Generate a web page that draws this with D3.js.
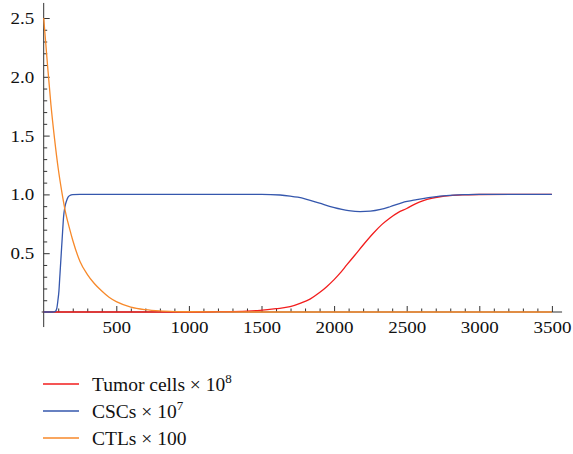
<!DOCTYPE html>
<html>
<head>
<meta charset="utf-8">
<script src="https://cdn.jsdelivr.net/npm/d3@7/dist/d3.min.js"></script>
<style>
  html, body { margin: 0; padding: 0; background: #fff; }
</style>
</head>
<body>
<svg id="chart" width="573" height="454"></svg>
<script>
// ---- data ----
const seriesNames = ["Tumor cells × 10", "CSCs × 10", "CTLs × 100"];
const seriesSup = ["8", "7", ""];
const seriesColors = ["#f21d1d", "#3557ad", "#f7892a"];

const tumorT = [0, 1000, 1200, 1400, 1490, 1600, 1697, 1770, 1834, 1900, 1949, 2000, 2041, 2087, 2144, 2200, 2270, 2330, 2385, 2440, 2500, 2560, 2615, 2670, 2729, 2800, 2900, 3000, 3500];
const tumorV = [0, 0, 0.003, 0.008, 0.014, 0.028, 0.045, 0.075, 0.11, 0.165, 0.215, 0.275, 0.33, 0.40, 0.485, 0.57, 0.67, 0.745, 0.80, 0.845, 0.88, 0.92, 0.947, 0.966, 0.98, 0.99, 0.996, 0.999, 1.0];

const cscT = [0, 60, 80, 90, 98, 105, 110, 115, 121, 126, 130, 137, 144, 151, 160, 167, 180, 200, 250, 1000, 1500, 1628, 1697, 1750, 1811, 1900, 1995, 2100, 2179, 2250, 2320, 2385, 2470, 2569, 2650, 2729, 2820, 2913, 3000, 3500];
const cscV = [0, 0, 0.005, 0.03, 0.10, 0.18, 0.28, 0.38, 0.5, 0.6, 0.68, 0.81, 0.88, 0.92, 0.955, 0.975, 0.99, 0.998, 1.0, 1.0, 1.0, 0.995, 0.986, 0.976, 0.958, 0.925, 0.89, 0.862, 0.853, 0.857, 0.872, 0.895, 0.93, 0.955, 0.972, 0.985, 0.994, 0.998, 1.0, 1.0];

const ctlT = [0, 25, 50, 75, 100, 125, 150, 180, 200, 250, 300, 350, 400, 450, 500, 600, 700, 800, 900, 1000, 1200, 1500, 3500];
const ctlV = [2.5, 2.12, 1.76, 1.47, 1.22, 1.02, 0.85, 0.70, 0.61, 0.43, 0.32, 0.24, 0.178, 0.125, 0.088, 0.042, 0.02, 0.009, 0.004, 0.002, 0.0005, 0, 0];

const xMajor = [500, 1000, 1500, 2000, 2500, 3000, 3500];
const yMajor = [0.5, 1.0, 1.5, 2.0, 2.5];
const xMinor = d3.range(100, 3501, 100).filter(v => v % 500 !== 0);
const yMinor = d3.range(1, 26).map(v => v / 10).filter(v => Math.round(v * 10) % 5 !== 0);

// ---- layout ----
const svg = d3.select("#chart");
const x = d3.scaleLinear().domain([0, 3500]).range([43.7, 551.9]);
const y = d3.scaleLinear().domain([0, 2.5]).range([312, 18]);
const axisColor = "#333";
const serif = "'Liberation Serif', 'Times New Roman', serif";
const textScale = 1.12;

const series = [
  { t: tumorT, v: tumorV },
  { t: cscT, v: cscV },
  { t: ctlT, v: ctlV }
];

// axis lines (extended slightly beyond data, as in reference)
const axes = svg.append("g");
axes.append("line").attr("x1", x(-14)).attr("x2", x(3570)).attr("y1", y(0)).attr("y2", y(0))
  .attr("stroke", axisColor).attr("stroke-width", 1);
axes.append("line").attr("x1", x(0)).attr("x2", x(0)).attr("y1", y(-0.128)).attr("y2", y(2.628))
  .attr("stroke", axisColor).attr("stroke-width", 1);

// x axis
const gx = svg.append("g").attr("transform", `translate(0,${y(0)})`);
gx.call(d3.axisBottom(x).tickValues(xMajor).tickSize(-6).tickPadding(8.5).tickFormat(d3.format("d")));
const gxm = svg.append("g").attr("transform", `translate(0,${y(0)})`);
gxm.call(d3.axisBottom(x).tickValues(xMinor).tickSize(-3.5).tickFormat(""));

// y axis
const gy = svg.append("g").attr("transform", `translate(${x(0)},0)`);
gy.call(d3.axisLeft(y).tickValues(yMajor).tickSize(-6).tickPadding(8.5).tickFormat(d3.format(".1f")));
const gym = svg.append("g").attr("transform", `translate(${x(0)},0)`);
gym.call(d3.axisLeft(y).tickValues(yMinor).tickSize(-3.5).tickFormat(""));

[gx, gxm, gy, gym].forEach(g => {
  g.attr("font-family", null).attr("font-size", null);
  g.select(".domain").remove();
  g.selectAll(".tick line").attr("stroke", axisColor).attr("stroke-width", 1);
  g.selectAll(".tick text")
    .style("font-family", serif)
    .style("font-size", "17px")
    .style("fill", "#111");
});
gx.selectAll(".tick text").attr("transform", `scale(${textScale},1)`);
gy.selectAll(".tick text").attr("transform", `scale(${textScale},1)`);

// curves
const line = d3.line()
  .x(d => x(d[0]))
  .y(d => y(d[1]))
  .curve(d3.curveMonotoneX);

series.forEach((s, i) => {
  const pts = s.t.map((t, j) => [t, s.v[j]]);
  svg.append("path")
    .datum(pts)
    .attr("d", line)
    .attr("fill", "none")
    .attr("stroke", seriesColors[i])
    .attr("stroke-width", 1.3);
});

// legend
const legend = svg.append("g");
const legY = [384, 411, 438];
seriesNames.forEach((name, i) => {
  legend.append("line")
    .attr("x1", 43).attr("x2", 79)
    .attr("y1", legY[i]).attr("y2", legY[i])
    .attr("stroke", seriesColors[i]).attr("stroke-width", 1.3);
  const txt = legend.append("text")
    .attr("x", 92).attr("y", legY[i] + 7)
    .style("font-family", serif)
    .style("font-size", "19.5px")
    .style("fill", "#111");
  txt.append("tspan").text(name);
  if (seriesSup[i]) {
    txt.append("tspan").attr("dy", -8).style("font-size", "13px").text(seriesSup[i]);
  }
});
</script>
</body>
</html>
